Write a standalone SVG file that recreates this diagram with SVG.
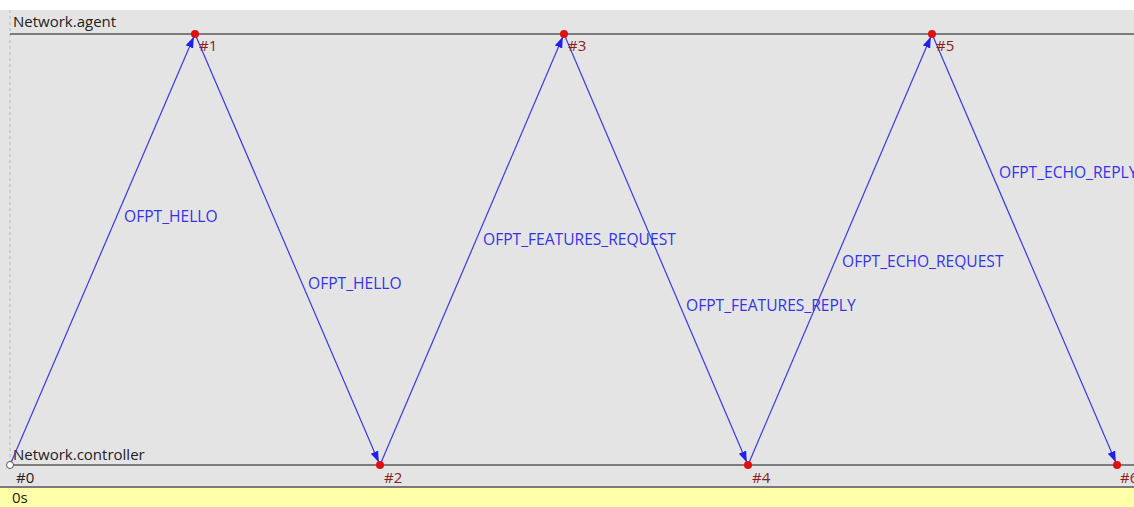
<svg xmlns="http://www.w3.org/2000/svg" width="1134" height="507" viewBox="0 0 1134 507">
<style>
.lbl{font-family:"Open Sans","Noto Sans",sans-serif;font-size:15.6px;fill:#3434e6}
.axis{font-family:"Open Sans","Noto Sans",sans-serif;font-size:15px;fill:#222}
.ev{font-family:"Open Sans","Noto Sans",sans-serif;font-size:15px;fill:#8b2020}
.msg{stroke:#3a3ae8;stroke-width:1.2;fill:none;marker-end:url(#ah)}
.dot{fill:#e01010}
</style>
<defs>
<marker id="ah" markerUnits="userSpaceOnUse" markerWidth="12" markerHeight="9" refX="11" refY="4" orient="auto">
<path d="M0,0 L11,4 L0,8 z" fill="#2020e8"/>
</marker>
</defs>
<rect x="0" y="0" width="1134" height="507" fill="#ffffff"/>
<rect x="0" y="10" width="1134" height="478" fill="#e4e4e4"/>
<rect x="0" y="488" width="1134" height="19" fill="#ffffa8"/>
<line x1="0" y1="487" x2="1134" y2="487" stroke="#7a7a7a" stroke-width="2"/>
<line x1="10" y1="10" x2="10" y2="465" stroke="#b8b8b8" stroke-width="1" stroke-dasharray="3,3"/>
<g id="agent">
<line x1="10" y1="34" x2="1134" y2="34" stroke="#5a5a5a" stroke-width="1.6"/>
<line x1="10" y1="37" x2="1134" y2="37" stroke="#ececec" stroke-width="1"/>
<text class="axis" x="13" y="27">Network.agent</text>
</g>
<g id="controller">
<line x1="10" y1="465" x2="1134" y2="465" stroke="#5a5a5a" stroke-width="1.6"/>
<text class="axis" x="13" y="460">Network.controller</text>
</g>
<g id="connectors">
<line class="msg" x1="10" y1="465" x2="193.8" y2="36.8"/>
<line class="msg" x1="195" y1="34" x2="378.8" y2="462.2"/>
<line class="msg" x1="380" y1="465" x2="562.8" y2="36.8"/>
<line class="msg" x1="564" y1="34" x2="746.8" y2="462.2"/>
<line class="msg" x1="748" y1="465" x2="930.8" y2="36.8"/>
<line class="msg" x1="932" y1="34" x2="1115.8" y2="462.2"/>
<text class="lbl" x="124" y="222">OFPT_HELLO</text>
<text class="lbl" x="308" y="289">OFPT_HELLO</text>
<text class="lbl" x="483" y="245">OFPT_FEATURES_REQUEST</text>
<text class="lbl" x="686" y="311">OFPT_FEATURES_REPLY</text>
<text class="lbl" x="842" y="267">OFPT_ECHO_REQUEST</text>
<text class="lbl" x="999" y="178">OFPT_ECHO_REPLY</text>
</g>
<g id="e0"><circle cx="10" cy="465" r="3.5" fill="#fff" stroke="#555" stroke-width="1"/><text class="axis" x="16" y="483">#0</text></g>
<g id="e1"><circle class="dot" cx="195" cy="34" r="4"/><text class="ev" x="199" y="51">#1</text></g>
<g id="e2"><circle class="dot" cx="380" cy="465" r="4"/><text class="ev" x="384" y="483">#2</text></g>
<g id="e3"><circle class="dot" cx="564" cy="34" r="4"/><text class="ev" x="568" y="51">#3</text></g>
<g id="e4"><circle class="dot" cx="748" cy="465" r="4"/><text class="ev" x="752" y="483">#4</text></g>
<g id="e5"><circle class="dot" cx="932" cy="34" r="4"/><text class="ev" x="936" y="51">#5</text></g>
<g id="e6"><circle class="dot" cx="1117" cy="465" r="4"/><text class="ev" x="1120" y="483">#6</text></g>
<text class="axis" x="12" y="503">0s</text>
</svg>
